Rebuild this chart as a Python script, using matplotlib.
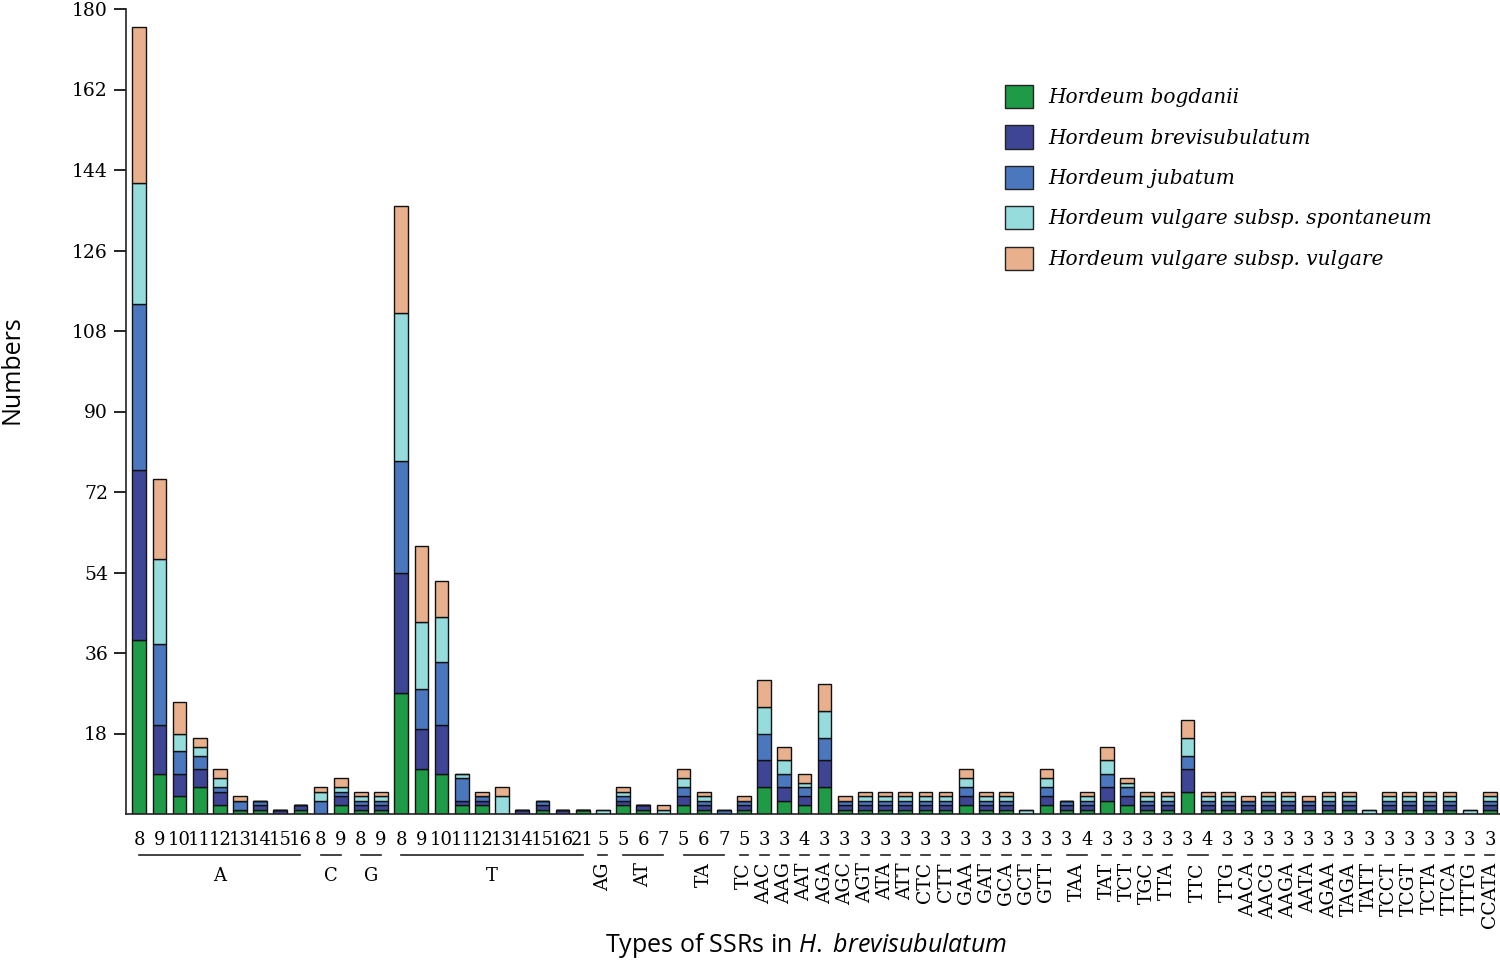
import matplotlib
matplotlib.use("Agg")
import matplotlib.pyplot as plt
import numpy as np
from matplotlib.patches import Patch

# SSR motif groups and their repeat numbers (one bar per repeat)
motifs = ['A', 'C', 'G', 'T', 'AG', 'AT', 'TA', 'TC',
          'AAC', 'AAG', 'AAT', 'AGA', 'AGC', 'AGT', 'ATA', 'ATT', 'CTC', 'CTT',
          'GAA', 'GAT', 'GCA', 'GCT', 'GTT', 'TAA', 'TAT', 'TCT', 'TGC', 'TTA',
          'TTC', 'TTG', 'AACA', 'AACG', 'AAGA', 'AATA', 'AGAA', 'TAGA', 'TATT',
          'TCCT', 'TCGT', 'TCTA', 'TTCA', 'TTTG', 'CCATA']
repeats = [[8, 9, 10, 11, 12, 13, 14, 15, 16], [8, 9], [8, 9],
           [8, 9, 10, 11, 12, 13, 14, 15, 16, 21], [5], [5, 6, 7], [5, 6, 7], [5],
           [3], [3], [4], [3], [3], [3], [3], [3], [3], [3],
           [3], [3], [3], [3], [3], [3, 4], [3], [3], [3], [3],
           [3, 4], [3], [3], [3], [3], [3], [3], [3], [3],
           [3], [3], [3], [3], [3], [3]]

species = ['Hordeum bogdanii', 'Hordeum brevisubulatum', 'Hordeum jubatum',
           'Hordeum vulgare subsp. spontaneum', 'Hordeum vulgare subsp. vulgare']

bogdanii = [39, 9, 4, 6, 2, 1, 1, 0, 1, 0, 2, 1, 1,
            27, 10, 9, 2, 2, 0, 0, 1, 0, 1, 0, 2, 1, 0, 2, 1, 0, 1,
            6, 3, 2, 6, 1, 1, 1, 1, 1, 1, 2, 1, 1, 0, 2,
            1, 1, 3, 2, 1, 1, 5, 1, 1,
            1, 1, 1, 1, 1, 1, 0, 1, 1, 1, 1, 0, 1]
brevisubulatum = [38, 11, 5, 4, 3, 0, 1, 1, 1, 0, 2, 1, 1,
                  27, 9, 11, 1, 1, 0, 1, 1, 1, 0, 0, 1, 1, 0, 2, 1, 0, 1,
                  6, 3, 2, 6, 1, 1, 1, 1, 1, 1, 2, 1, 1, 0, 2,
                  1, 1, 3, 2, 1, 1, 5, 1, 1,
                  1, 1, 1, 1, 1, 1, 0, 1, 1, 1, 1, 0, 1]
jubatum = [37, 18, 5, 3, 1, 2, 1, 0, 0, 3, 1, 1, 1,
           25, 9, 14, 5, 1, 0, 0, 1, 0, 0, 0, 1, 0, 0, 2, 1, 1, 1,
           6, 3, 2, 5, 1, 1, 1, 1, 1, 1, 2, 1, 1, 0, 2,
           1, 1, 3, 2, 1, 1, 3, 1, 1,
           1, 1, 1, 1, 1, 1, 0, 1, 1, 1, 1, 0, 1]
spontaneum = [27, 19, 4, 2, 2, 0, 0, 0, 0, 2, 1, 1, 1,
              33, 15, 10, 1, 0, 4, 0, 0, 0, 0, 1, 1, 0, 1, 2, 1, 0, 0,
              6, 3, 1, 6, 0, 1, 1, 1, 1, 1, 2, 1, 1, 1, 2,
              0, 1, 3, 1, 1, 1, 4, 1, 1,
              0, 1, 1, 0, 1, 1, 1, 1, 1, 1, 1, 1, 1]
vulgare = [35, 18, 7, 2, 2, 1, 0, 0, 0, 1, 2, 1, 1,
           24, 17, 8, 0, 1, 2, 0, 0, 0, 0, 0, 1, 0, 1, 2, 1, 0, 1,
           6, 3, 2, 6, 1, 1, 1, 1, 1, 1, 2, 1, 1, 0, 2,
           0, 1, 3, 1, 1, 1, 4, 1, 1,
           1, 1, 1, 1, 1, 1, 0, 1, 1, 1, 1, 0, 1]

colors = ['#1f9a46', '#3f4595', '#4b77bf', '#96dcdd', '#e8b08d']

plt.rcParams['font.family'] = ['DejaVu Serif']
plt.rcParams['mathtext.fontset'] = 'custom'
plt.rcParams['mathtext.rm'] = 'Open Sans'
plt.rcParams['mathtext.it'] = 'Open Sans:italic'

fig = plt.figure(figsize=(15, 9.6), dpi=100)
ax = fig.add_axes([126 / 1500, (960 - 814) / 960, 1 - 126 / 1500, 805 / 960])

tick_labels = [str(r) for reps in repeats for r in reps]
x = np.arange(len(tick_labels))

# Stacked bars
bottom = np.zeros(len(x))
for vals, col in zip([bogdanii, brevisubulatum, jubatum, spontaneum, vulgare], colors):
    vals = np.array(vals)
    ax.bar(x, vals, width=0.68, bottom=bottom, color=col, edgecolor='#111111', linewidth=1.0)
    bottom += vals

ax.set_xlim(-0.655, 67.5)
ax.set_ylim(0, 180)
ax.set_yticks(np.arange(18, 181, 18))
ax.tick_params(axis='y', direction='out', length=9, width=1.2, pad=4, labelsize=13.5)
ax.set_xticks(x)
ax.set_xticklabels(tick_labels)
ax.tick_params(axis='x', length=0, pad=12, labelsize=13)
for s in ['top', 'right']:
    ax.spines[s].set_visible(False)
for s in ['left', 'bottom']:
    ax.spines[s].set_linewidth(1.2)
    ax.spines[s].set_color('#222222')

# Group underlines and motif names below the repeat numbers
trans = ax.get_xaxis_transform()
start = 0
for name, reps in zip(motifs, repeats):
    first, last = start, start + len(reps) - 1
    if len(reps) == 1:
        x0, x1 = first - 0.22, last + 0.22
    else:
        x0, x1 = first, last
    ax.plot([x0, x1], [-0.051, -0.051], transform=trans, color='#222222',
            linewidth=1.2, clip_on=False)
    xc = (first + last) / 2
    if len(name) == 1:
        ax.text(xc, -0.0775, name, transform=trans, ha='center', va='center', fontsize=13)
    else:
        ax.text(xc, -0.0600, name, transform=trans, ha='center', va='top',
                rotation=90, fontsize=13.5)
    start += len(reps)

handles = [Patch(facecolor=c, edgecolor='#222222', linewidth=1.0) for c in colors]
fig.legend(handles, species, loc='upper left', bbox_to_anchor=(1005 / 1500, (960 - 85) / 960),
           frameon=False, borderpad=0, borderaxespad=0, handlelength=1.4, handleheight=1.4,
           handletextpad=0.75, labelspacing=0.85, prop={'style': 'italic', 'size': 14.5})

fig.text(12 / 1500, (960 - 370) / 960, 'Numbers', rotation=90, ha='center', va='center',
         fontsize=18, family='Open Sans')
fig.text(806 / 1500, (960 - 945) / 960, r'Types of SSRs in $\mathit{H.}$ $\mathit{brevisubulatum}$',
         ha='center', va='center', fontsize=18, family='Open Sans')

fig.savefig('out.png', dpi=100)
